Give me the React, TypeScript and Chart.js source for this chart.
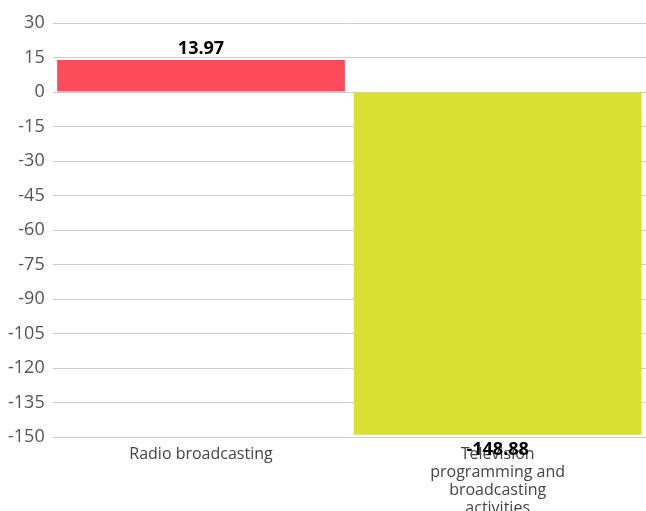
import React, { useEffect, useRef } from "react";
import { Chart, registerables } from "chart.js";

Chart.register(...registerables);

const categories: (string | string[])[] = [
  "Radio broadcasting",
  ["Television", "programming and", "broadcasting", "activities"],
];
const values = [13.97, -148.88];
const barColors = ["#fc4c5c", "#d9e031"];
const yMin = -150;
const yMax = 30;
const yStep = 15;

const FONT = "'Open Sans', 'Noto Sans', sans-serif";

const valueLabels = {
  id: "valueLabels",
  afterDatasetsDraw(chart: any) {
    const ctx = chart.ctx;
    const meta = chart.getDatasetMeta(0);
    ctx.save();
    ctx.font = `bold 18px ${FONT}`;
    ctx.fillStyle = "#000";
    ctx.textAlign = "center";
    meta.data.forEach((bar: any, i: number) => {
      const v = values[i];
      const txt = v.toFixed(2);
      if (v >= 0) {
        ctx.textBaseline = "bottom";
        ctx.fillText(txt, bar.x, bar.y - 2);
      } else {
        ctx.textBaseline = "top";
        ctx.fillText(txt, bar.x, bar.y + 6);
      }
    });
    ctx.restore();
  },
};

export default function App() {
  const ref = useRef<HTMLCanvasElement>(null);
  useEffect(() => {
    const chart = new Chart(ref.current!, {
      type: "bar",
      data: {
        labels: categories,
        datasets: [
          {
            data: values,
            backgroundColor: barColors,
            barPercentage: 0.97,
            categoryPercentage: 1,
          },
        ],
      },
      options: {
        animation: false,
        responsive: true,
        maintainAspectRatio: false,
        layout: { padding: { top: 23, right: 0, bottom: -6, left: 0 } },
        plugins: {
          legend: { display: false },
          tooltip: { enabled: false },
        },
        scales: {
          x: {
            grid: { display: false },
            border: { display: false },
            ticks: {
              color: "#444",
              font: { family: FONT, size: 16, lineHeight: 1.12 },
              padding: 0,
              maxRotation: 0,
            },
          },
          y: {
            min: yMin,
            max: yMax,
            grid: { color: "#cccccc", drawTicks: false, lineWidth: 1 },
            border: { display: false },
            ticks: {
              stepSize: yStep,
              color: "#555",
              font: { family: FONT, size: 18 },
              padding: 8,
            },
          },
        },
      },
      plugins: [valueLabels],
    });
    return () => chart.destroy();
  }, []);
  return (
    <div style={{ position: "fixed", left: 0, top: 0, width: 646, height: 511, background: "#fff" }}>
      <canvas ref={ref} />
    </div>
  );
}
